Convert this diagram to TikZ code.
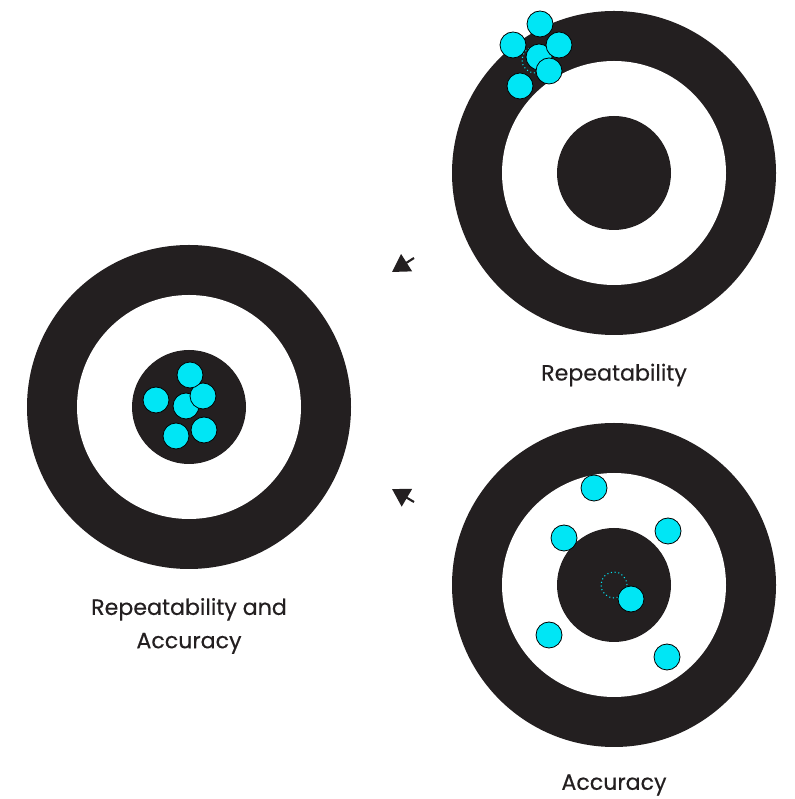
\documentclass[tikz,border=0pt]{standalone}
\usepackage{fontspec}
\newfontfamily\labelfont{Poppins}[FakeBold=0.4]
\usetikzlibrary{arrows.meta}
\definecolor{ink}{HTML}{231F20}
\definecolor{shot}{HTML}{00E6F5}
\tikzset{>={Triangle[length=13pt,width=15pt]},every node/.style={font=\labelfont\fontsize{16.6}{25}\selectfont,text=ink,align=center},
ring/.style={fill=ink},hole/.style={fill=white},hit/.style={fill=shot,draw=black,line width=.6pt},
aim/.style={draw=shot,dotted,line width=.8pt},pointer/.style={ink,line width=1.6pt,->}}
\newcommand\drawtarget[1]{\fill[ring] (#1) circle (162); \fill[hole] (#1) circle (112); \fill[ring] (#1) circle (57);}

\begin{document}
\begin{tikzpicture}[x=.75pt,y=.75pt]
\useasboundingbox (0,0) rectangle (795,799);
\coordinate (rep) at (614,626);
\coordinate (both) at (189,392);
\coordinate (acc) at (614,214);
\drawtarget{rep}\drawtarget{both}\drawtarget{acc}
\draw[aim] (535,739) circle (13);
\foreach \p in {(539,742),(540,775),(513,754),(559,754),(549,728),(520,713)}
 \draw[hit] \p circle (13);
\foreach \p in {(186,393),(203,403),(190,424),(156,399),(176,363),(204,369)}
 \draw[hit] \p circle (13);
\draw[aim] (acc) circle (13);
\foreach \p in {(594,311),(668,268),(564,261),(631,200),(549,164),(667,142)}
 \draw[hit] \p circle (13);
\node (replabel) at (614,424) {Repeatability};
\node (bothlabel) at (189,173) {Repeatability and\\Accuracy};
\node (acclabel) at (614,14) {Accuracy};
\coordinate (a1) at (414,541);
\coordinate (a1tip) at (392,527);
\coordinate (a2) at (414,297);
\coordinate (a2tip) at (392,310);
\draw[pointer] (a1) -- (a1tip);
\draw[pointer] (a2) -- (a2tip);
\end{tikzpicture}
\end{document}
